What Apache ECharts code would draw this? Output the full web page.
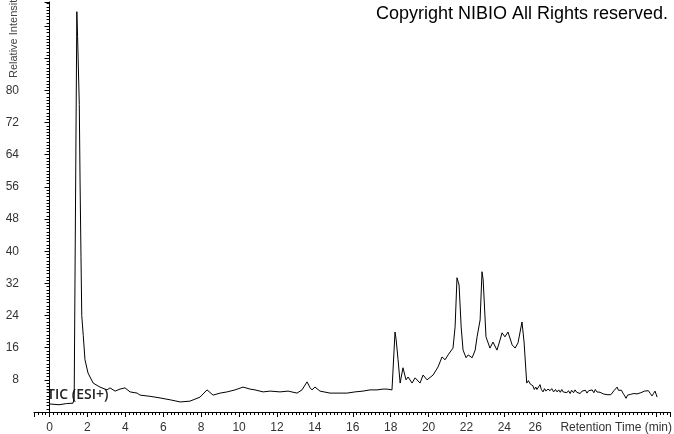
<!DOCTYPE html>
<html>
<head>
<meta charset="utf-8">
<script src="https://cdn.jsdelivr.net/npm/echarts@6/dist/echarts.min.js"></script>
<style>
html,body{margin:0;padding:0;background:#fff;}
#chart{width:674px;height:434px;}
</style>
</head>
<body>
<div id="chart"></div>
<script>
// Retention time (min)
const times = [
  0, 0.5, 0.9, 1.24, 1.30, 1.44, 1.48, 1.57, 1.61, 1.66, 1.70, 1.78, 1.87, 2.03, 2.30, 2.66, 3.03,
  3.19, 3.46, 3.72, 3.98, 4.25, 4.62, 4.78, 5.3, 5.83, 6.4, 6.89, 7.41, 7.94, 8.31, 8.63, 9.0, 9.37,
  9.79, 10.21, 10.58, 10.84, 11.27, 11.64, 12.16, 12.59, 13.06, 13.32, 13.59, 13.75, 13.85, 14.01,
  14.27, 14.8, 15.33, 15.7, 16.12, 16.54, 16.91, 17.28, 17.6, 17.81, 18.07, 18.18, 18.23, 18.29,
  18.39, 18.5, 18.65, 18.81, 18.92, 19.13, 19.29, 19.55, 19.71, 19.92, 20.24, 20.5, 20.71, 20.87,
  21.03, 21.29, 21.4, 21.5, 21.61, 21.72, 21.82, 21.98, 22.09, 22.3, 22.46, 22.56, 22.72, 22.82,
  22.88, 23.03, 23.24, 23.4, 23.61, 23.77, 23.88, 24.03, 24.19, 24.41, 24.57, 24.72, 24.93, 25.04,
  25.18, 25.27, 25.36, 25.44, 25.51, 25.58, 25.66, 25.72, 25.8, 25.88, 25.95, 26.04, 26.12, 26.2,
  26.3, 26.41, 26.5, 26.6, 26.7, 26.78, 26.87, 26.95, 27.03, 27.1, 27.2, 27.3, 27.38, 27.47, 27.55,
  27.65, 27.73, 27.82, 27.9, 28.0, 28.1, 28.2, 28.28, 28.36, 28.45, 28.55, 28.63, 28.72, 28.8,
  28.88, 28.97, 29.05, 29.13, 29.22, 29.3, 29.42, 29.52, 29.62, 29.72, 29.8, 29.88, 29.95, 30.02,
  30.1, 30.18, 30.27, 30.35, 30.42, 30.5, 30.58, 30.67, 30.75, 30.83, 30.92, 31.0, 31.1, 31.2,
  31.3, 31.4, 31.5, 31.6, 31.7, 31.79, 31.87, 31.95, 32.06
];
// Relative intensity (%)
const intensity = [
  2.0, 1.8, 2.1, 2.2, 3.5, 99.6, 93.4, 76.5, 57.5, 38.6, 24.0, 19.0, 13.0, 9.7, 7.2, 6.2, 5.5,
  6.0, 5.2, 5.7, 6.0, 5.0, 4.7, 4.2, 3.9, 3.5, 3.0, 2.5, 2.7, 3.7, 5.5, 4.2, 4.7, 5.0,
  5.5, 6.2, 5.7, 5.5, 5.0, 5.2, 5.0, 5.2, 4.7, 5.5, 7.5, 6.0, 5.5, 6.2,
  5.2, 4.7, 4.7, 4.7, 5.0, 5.2, 5.5, 5.5, 5.7, 5.7, 5.5, 15.4, 19.9, 18.0,
  13.0, 7.2, 11.0, 8.0, 8.7, 7.2, 8.5, 7.2, 9.2, 8.0, 9.2, 11.2, 13.7, 13.0,
  14.2, 15.9, 21.2, 33.4, 31.6, 21.2, 15.4, 13.5, 14.2, 13.5, 15.4, 18.7, 22.9, 34.9,
  32.9, 18.7, 15.9, 17.4, 15.4, 17.9, 19.7, 18.7, 19.9, 16.7, 15.9, 17.2, 22.4, 17.4,
  7.2, 7.8, 7.0, 7.4, 6.5, 5.6, 6.2, 5.6, 6.0, 6.8, 5.6, 5.0, 5.8, 5.2,
  5.7, 5.3, 5.8, 5.0, 5.6, 5.0, 5.5, 4.9, 5.6, 5.0, 5.4, 4.8, 5.3, 4.6, 5.4,
  4.8, 5.5, 4.9, 5.3, 4.6, 5.2, 4.8, 5.4, 4.7, 5.3, 4.9, 5.5, 4.8, 5.6,
  5.0, 5.4, 4.9, 5.2, 4.5, 4.7, 4.3, 4.4, 4.3, 4.6, 5.4, 5.6, 6.2, 5.4,
  5.0, 5.4, 4.6, 4.0, 3.4, 4.2, 3.8, 4.4, 4.0, 4.6, 4.2, 4.5, 4.3, 4.8,
  4.9, 5.2, 5.1, 5.3, 4.6, 4.0, 4.6, 5.2, 3.7
];
const xTickLabels = [0, 2, 4, 6, 8, 10, 12, 14, 16, 18, 20, 22, 24, 26];
const yTickLabels = [8, 16, 24, 32, 40, 48, 56, 64, 72, 80];

const chart = echarts.init(document.getElementById('chart'), null, {renderer: 'canvas'});
const FONT = '"Liberation Sans", Arial, sans-serif';
const near = (arr, v) => arr.some(a => Math.abs(a - v) < 1e-6);
const lastX = xTickLabels[xTickLabels.length - 1];

chart.setOption({
  animation: false,
  backgroundColor: '#ffffff',
  grid: {left: 34, right: 4, top: 2, bottom: 22, containLabel: false},
  xAxis: {
    type: 'value', min: -0.82, max: 32.74, minInterval: 2, maxInterval: 2,
    axisLine: {show: true, lineStyle: {color: '#000', width: 1}},
    axisTick: {show: true, length: 5, lineStyle: {color: '#000'}},
    minorTick: {show: true, splitNumber: 10, length: 3, lineStyle: {color: '#000'}},
    splitLine: {show: false},
    axisLabel: {
      margin: 10, color: '#333', fontFamily: FONT, fontSize: 12,
      formatter: v => {
        if (!near(xTickLabels, v)) return '';
        const s = String(Math.round(v));
        return Math.abs(v - lastX) < 1e-6 ? '{s|' + s + '}' : s;
      },
      rich: {s: {color: '#333', fontFamily: FONT, fontSize: 12, padding: [0, 14, 0, 0]}}
    }
  },
  yAxis: {
    type: 'value', min: 0, max: 102, interval: 8,
    axisLine: {show: true, lineStyle: {color: '#000', width: 1}},
    axisTick: {show: true, length: 5, lineStyle: {color: '#000'}},
    minorTick: {show: true, splitNumber: 10, length: 3, lineStyle: {color: '#000'}},
    splitLine: {show: false},
    axisLabel: {
      margin: 15, color: '#333', fontFamily: FONT, fontSize: 12,
      formatter: v => near(yTickLabels, v) ? String(Math.round(v)) : ''
    }
  },
  graphic: [
    {type: 'text', x: 668, y: 14, style: {text: 'Copyright NIBIO All Rights reserved.', font: '18px ' + FONT, fill: '#000', align: 'right', verticalAlign: 'middle'}},
    {type: 'text', x: 14, y: 78, rotation: Math.PI / 2, style: {text: 'Relative Intensity', font: '11px ' + FONT, fill: '#444', align: 'left', verticalAlign: 'middle'}},
    {type: 'text', x: 672, y: 428, style: {text: 'Retention Time (min)', font: '12px ' + FONT, fill: '#333', align: 'right', verticalAlign: 'middle'}},
    {type: 'text', x: 47, y: 395, style: {text: 'TIC (ESI+)', font: '600 14px "Open Sans", sans-serif', fill: '#222', align: 'left', verticalAlign: 'middle'}}
  ],
  series: [{
    type: 'line',
    data: times.map((t, i) => [t, intensity[i]]),
    showSymbol: false,
    symbol: 'none',
    lineStyle: {color: '#000', width: 1},
    clip: true
  }]
});
</script>
</body>
</html>
